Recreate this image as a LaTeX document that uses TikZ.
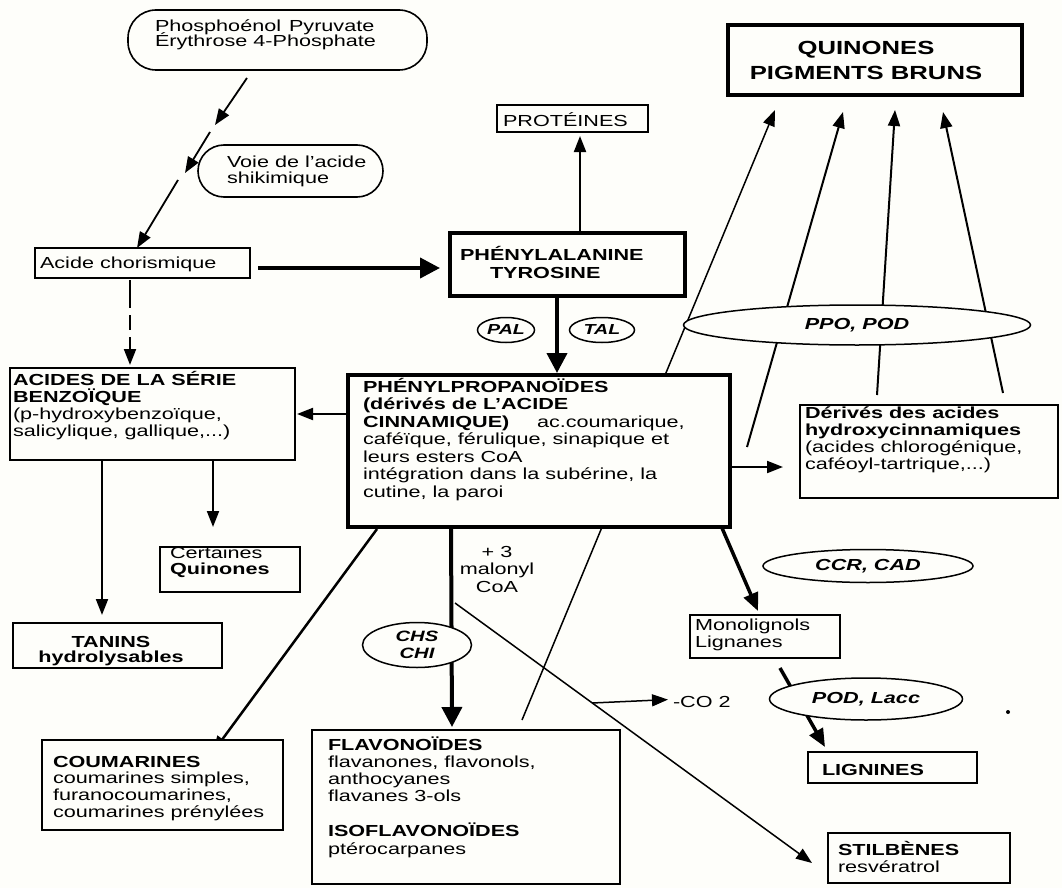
\documentclass[tikz,border=0pt]{standalone}
\usepackage{fontspec}
\setmainfont{Liberation Sans}[FakeStretch=1.35]
\usetikzlibrary{arrows.meta,shapes.geometric,calc}
\pgfdeclarelayer{back}
\pgfdeclarelayer{bg}
\pgfsetlayers{back,bg,main}
\definecolor{paper}{RGB}{254,254,250}
\newcommand\fsA{\fontsize{16}{17.5}\selectfont}
\newcommand\tp{\rule{0pt}{15pt}}
\begin{document}
\lineskiplimit=-100pt
\lineskip=0pt
\begin{tikzpicture}[x=1pt,y=-1pt,
  tbox/.style={draw, line width=1.6pt, fill=paper, anchor=north west, inner sep=0pt, outer sep=0pt},
  kbox/.style={tbox, line width=4pt},
  txt/.style={inner sep=0pt, outer sep=0pt, anchor=north west, align=left, font=\fsA},
  ctxt/.style={txt, anchor=north, align=center},
  enz/.style={ellipse, draw, line width=1.5pt, fill=paper, inner sep=0pt, align=center, font=\fontsize{16}{17}\selectfont\bfseries\itshape},
  enzs/.style={enz, font=\fontsize{14.5}{17}\selectfont\bfseries\itshape},
  arr/.style={-{Triangle[length=16pt,width=12pt]}, line width=2pt},
  thinarr/.style={arr, line width=1.5pt},
  bigarr/.style={-{Triangle[length=20pt,width=20pt]}, line width=4pt},
]
\useasboundingbox (0,0) rectangle (1062,888);
\begin{pgfonlayer}{back}
\fill[paper] (0,0) rectangle (1062,888);
\end{pgfonlayer}

% ---- boxes ----
\node[tbox, rounded corners=28pt, minimum width=299pt, minimum height=60pt] (pep) at (128,10) {};
\node[txt, font=\fontsize{16}{15}\selectfont] (peptxt) at (155,17) {\tp Phosphoénol\hspace{8pt}Pyruvate\\Érythrose 4-Phosphate};

\node[tbox, rounded corners=26pt, minimum width=185pt, minimum height=52pt] (voie) at (198,145) {};
\node[txt, font=\fontsize{16}{16}\selectfont] (voietxt) at (227,152) {\tp Voie de l'acide\\shikimique};

\node[tbox, minimum width=215pt, minimum height=30pt] (chor) at (35,248) {};
\node[txt] (chortxt) at (40,253) {\tp Acide chorismique};

\node[kbox, minimum width=235pt, minimum height=63pt] (phe) at (450,233) {};
\node[txt, font=\fontsize{16}{18}\selectfont\bfseries] (phetxt) at (460,245) {\tp PHÉNYLALANINE\\\hspace*{30pt}TYROSINE};

\node[tbox, minimum width=151pt, minimum height=27pt] (prot) at (497,105) {};
\node[txt] (prottxt) at (503,111) {\tp PROTÉINES};

\node[kbox, minimum width=294pt, minimum height=70pt] (quin) at (728,25) {};
\node[ctxt, font=\fontsize{19}{25}\selectfont\bfseries] (quintxt) at (866,40) {\tp QUINONES\\PIGMENTS BRUNS};

\node[tbox, minimum width=285pt, minimum height=92pt] (acides) at (10,368) {};
\node[txt, font=\fontsize{16}{17.3}\selectfont] (acidestxt) at (13,370) {\tp\textbf{ACIDES DE LA SÉRIE}\\\textbf{BENZOÏQUE}\\(p-hydroxybenzoïque,\\salicylique, gallique,...)};

\node[tbox, minimum width=140pt, minimum height=45pt] (cert) at (160,547) {};
\node[txt, font=\fontsize{16}{16.5}\selectfont] (certtxt) at (170,543) {\tp Certaines\\\textbf{Quinones}};

\node[tbox, minimum width=209pt, minimum height=45pt] (tanins) at (13,623) {};
\node[ctxt, font=\fontsize{16}{15}\selectfont\bfseries] (taninstxt) at (111,632) {\tp TANINS\\hydrolysables};

\node[tbox, minimum width=241pt, minimum height=90pt] (cou) at (42,740) {};
\node[txt, font=\fontsize{16}{16.7}\selectfont] (coutxt) at (53,752) {\tp\textbf{COUMARINES}\\coumarines simples,\\furanocoumarines,\\coumarines prénylées};

\node[kbox, minimum width=382pt, minimum height=152pt] (pp) at (348,375) {};
\node[txt] (pptxt) at (363,377) {\tp\textbf{PHÉNYLPROPANOÏDES}\\\textbf{(dérivés de L'ACIDE}\\\makebox[174pt][l]{\textbf{CINNAMIQUE)}}ac.coumarique,\\caféïque, férulique, sinapique et\\leurs esters CoA\\intégration dans la subérine, la\\cutine, la paroi};

\node[ctxt] (malo) at (497,542) {\tp + 3\\malonyl\\CoA};

\node[tbox, minimum width=308pt, minimum height=154pt] (flav) at (312,730) {};
\node[txt, font=\fontsize{16}{17.3}\selectfont] (flavtxt) at (328,735) {\tp\textbf{FLAVONOÏDES}\\flavanones, flavonols,\\anthocyanes\\flavanes 3-ols\\[17.5pt]\textbf{ISOFLAVONOÏDES}\\ptérocarpanes};

\node[tbox, minimum width=258pt, minimum height=93pt] (der) at (800,405) {};
\node[txt, font=\fontsize{16}{17.3}\selectfont] (dertxt) at (805,403) {\tp\textbf{Dérivés des acides}\\\textbf{hydroxycinnamiques}\\(acides chlorogénique,\\caféoyl-tartrique,...)};

\node[tbox, minimum width=150pt, minimum height=43pt] (mono) at (690,615) {};
\node[txt, font=\fontsize{16}{17}\selectfont] (monotxt) at (695,615) {\tp Monolignols\\Lignanes};

\node[tbox, minimum width=169pt, minimum height=31pt] (lig) at (808,752) {};
\node[txt, font=\fsA\bfseries] (ligtxt) at (822,760) {\tp LIGNINES};

\node[tbox, minimum width=182pt, minimum height=50pt] (stil) at (828,833) {};
\node[txt, font=\fontsize{16}{17}\selectfont] (stiltxt) at (838,840) {\tp\textbf{STILBÈNES}\\resvératrol};

\node[txt] (co2) at (673,692) {\tp -CO 2};

% ---- enzymes ----
\node[enzs, minimum width=57pt, minimum height=25pt] (pal) at (506,330) {PAL};
\node[enzs, minimum width=65pt, minimum height=25pt] (tal) at (602,330) {TAL};
\node[enz, minimum width=347pt, minimum height=40pt] (ppo) at (857,325) {PPO, POD};
\node[enz, minimum width=210pt, minimum height=33pt] (ccr) at (868,566) {CCR, CAD};
\node[enz, minimum width=193pt, minimum height=42pt] (podl) at (866,699) {POD, Lacc};
\node[enz, font=\fontsize{15}{17}\selectfont\bfseries\itshape, minimum width=109pt, minimum height=45pt] (chs) at (417,645) {CHS\\CHI};

% ---- free ends ----
\coordinate (c1a) at (247,78);
\coordinate (c1b) at (215,125);
\coordinate (c2a) at (210,132);
\coordinate (c2b) at (185,173);
\coordinate (c3a) at (178,180);
\coordinate (q1) at (522,720);
\coordinate (q2) at (747,447);
\coordinate (stA) at (455,603);
\coordinate (coA) at (592,703);

\begin{pgfonlayer}{bg}
\draw[arr, line width=1.8pt] (c1a) -- (c1b);
\draw[arr, line width=1.8pt] (c2a) -- (c2b);
\draw[arr, line width=1.8pt] (c3a) -- ($(chor.north)+(-5.5,0)$);
\draw[bigarr] ($(chor.east)+(8,5)$) -- ($(phe.west)+(-10,3.5)$);
\draw[arr] ($(phe.north)+(12.5,0)$) -- ($(prot.south)+(7.5,4)$);
\draw[bigarr] ($(phe.south)+(-10.5,0)$) -- ($(pp.north)+(18,-2)$);
\draw[arr] (pp.west |- acides.east) -- ($(acides.east)+(2,0)$);
\draw[arr, dash pattern=on 28pt off 7pt on 15pt off 7pt] ($(chor.south)+(-12.5,2)$) -- ($(acides.north)+(-22.5,-3)$);
\draw[arr] ($(acides.south)+(-50.5,0)$) -- ($(tanins.north)+(-15.5,-8)$);
\draw[arr] ($(acides.south)+(60.5,0)$) -- ($(cert.north)+(-17,-20)$);
\draw[arr, line width=2.5pt] ($(pp.south west)+(29,2)$) -- ($(cou.north)+(50.5,12)$);
\draw[bigarr] ($(pp.south)+(-88,0)$) -- ($(flav.north)+(-14,-3)$);
\draw[thinarr] (stA) -- ($(stil.west)+(-16,5)$);
\draw[thinarr] (coA) -- ($(co2.west)+(-5,0)$);
\draw[arr] ($(pp.east)+(2,16)$) -- ($(der.west)+(-17,15.5)$);
\draw[bigarr, line width=3.5pt, -{Triangle[length=18pt,width=15pt]}] ($(pp.south east)+(-8,1)$) -- ($(mono.north)+(-7,-4)$);
\draw[bigarr, line width=3.5pt, -{Triangle[length=18pt,width=15pt]}] ($(mono.south)+(15,10)$) -- ($(lig.north west)+(17,-5)$);
\draw[thinarr] (q1) -- ($(quin.south west)+(47,15)$);
\draw[arr] (q2) -- ($(quin.south west)+(115,17)$);
\draw[arr] ($(der.north west)+(77,-10)$) -- ($(quin.south west)+(167,15)$);
\draw[arr] ($(der.north west)+(203,-12)$) -- ($(quin.south west)+(215,17)$);
\fill (1008,712) circle (2pt);
\end{pgfonlayer}
\end{tikzpicture}
\end{document}
